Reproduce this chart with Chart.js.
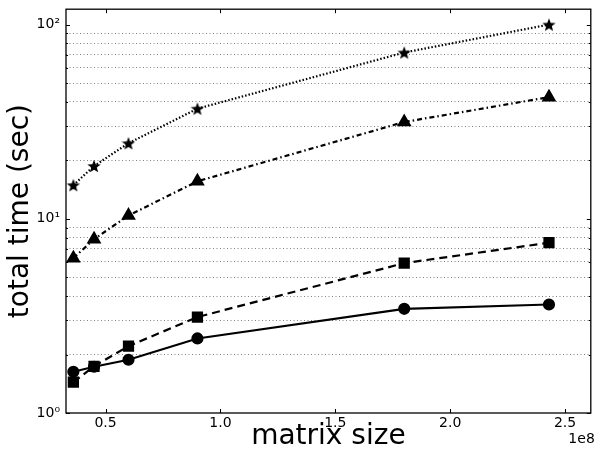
<!DOCTYPE html>
<html>
<head>
<meta charset="utf-8">
<script src="https://cdn.jsdelivr.net/npm/chart.js@4"></script>
<style>
  html, body { margin: 0; padding: 0; background: #fff; }
  #wrap { width: 600px; height: 461px; }
</style>
</head>
<body>
<div id="wrap"><canvas id="myChart"></canvas></div>
<script>
// matrix sizes (x) and total times in seconds for the four runs
const matrixSizes = [0.36e8, 0.45e8, 0.60e8, 0.90e8, 1.80e8, 2.43e8];
const timesCircle = [1.63, 1.73, 1.88, 2.42, 3.44, 3.62];
const timesSquare = [1.44, 1.74, 2.21, 3.12, 5.91, 7.53];
const timesTriangle = [6.27, 7.85, 10.4, 15.6, 31.5, 42.3];
const timesStar = [14.9, 18.7, 24.5, 36.9, 71.8, 100];

const xTicks = [0.5e8, 1.0e8, 1.5e8, 2.0e8, 2.5e8];
const yMajor = [1, 10, 100];
const yLabels = ['10\u2070', '10\u00b9', '10\u00b2'];

// y ticks: every 1..9 x 10^n between 1 and 100
const yTicks = [];
for (let d = 1; d <= 100; d *= 10) {
  for (let m = 1; m <= 9; m++) {
    if (m * d <= 100) yTicks.push(m * d);
  }
}

// filled 5 point star like matplotlib's '*'
function makeStar(size) {
  const c = document.createElement('canvas');
  c.width = size; c.height = size;
  const g = c.getContext('2d');
  const cx = size / 2, cy = size / 2 + 0.7;
  const ro = size / 2, ri = ro * 0.42;
  g.beginPath();
  for (let i = 0; i < 10; i++) {
    const r = i % 2 === 0 ? ro : ri;
    const a = -Math.PI / 2 + i * Math.PI / 5;
    g.lineTo(cx + r * Math.cos(a), cy + r * Math.sin(a));
  }
  g.closePath();
  g.fillStyle = '#000';
  g.fill();
  return c;
}
const starImg = makeStar(14);

function toPoints(vals) {
  return vals.map((v, i) => ({ x: matrixSizes[i], y: v }));
}

const frame = {
  id: 'frame',
  afterDraw(chart) {
    const { ctx, chartArea: a } = chart;
    const xs = chart.scales.x, ys = chart.scales.y;
    ctx.save();
    ctx.strokeStyle = '#000';
    ctx.lineWidth = 1;
    ctx.beginPath();
    // inward tick marks
    xTicks.forEach(v => {
      const px = Math.round(xs.getPixelForValue(v)) + 0.5;
      ctx.moveTo(px, a.bottom); ctx.lineTo(px, a.bottom - 4);
      ctx.moveTo(px, a.top); ctx.lineTo(px, a.top + 4);
    });
    yTicks.forEach(v => {
      const py = Math.round(ys.getPixelForValue(v)) + 0.5;
      const len = yMajor.includes(v) ? 4 : 2;
      ctx.moveTo(a.left, py); ctx.lineTo(a.left + len, py);
      ctx.moveTo(a.right, py); ctx.lineTo(a.right - len, py);
    });
    ctx.stroke();
    ctx.lineWidth = 1.3;
    ctx.strokeRect(a.left, a.top, a.right - a.left, a.bottom - a.top);
    // offset text
    ctx.fillStyle = '#000';
    ctx.font = '14px "DejaVu Sans"';
    ctx.textAlign = 'right';
    ctx.textBaseline = 'top';
    ctx.fillText('1e8', a.right + 4, 432);
    ctx.restore();
  }
};

const ctx = document.getElementById('myChart');
new Chart(ctx, {
  type: 'line',
  data: {
    datasets: [{
      data: toPoints(timesCircle),
      borderColor: '#000', backgroundColor: '#000',
      borderWidth: 2.2, pointStyle: 'circle', pointRadius: 5
    }, {
      data: toPoints(timesSquare),
      borderColor: '#000', backgroundColor: '#000',
      borderWidth: 2.2, borderDash: [8, 5], pointStyle: 'rect', pointRadius: 6.4
    }, {
      data: toPoints(timesTriangle),
      borderColor: '#000', backgroundColor: '#000',
      borderWidth: 2.2, borderDash: [5, 3, 1.5, 3], pointStyle: 'triangle', pointRadius: 6.3
    }, {
      data: toPoints(timesStar),
      borderColor: '#000', backgroundColor: '#000',
      borderWidth: 2.2, borderDash: [1.5, 2], pointStyle: starImg, pointRadius: 7
    }]
  },
  options: {
    responsive: true,
    maintainAspectRatio: false,
    animation: false,
    layout: { padding: { top: 4, right: 7, left: 0, bottom: 0 } },
    plugins: { legend: { display: false }, tooltip: { enabled: false } },
    elements: { line: { tension: 0 }, point: { borderWidth: 0 } },
    scales: {
      x: {
        type: 'linear',
        min: 0.328e8,
        max: 2.612e8,
        afterBuildTicks: s => { s.ticks = xTicks.map(v => ({ value: v })); },
        afterFit: s => { s.height = 48; s.paddingLeft = 0; s.paddingRight = 0; },
        grid: { display: false, drawTicks: false },
        border: { display: false },
        ticks: {
          padding: 2,
          color: '#000',
          font: { family: 'DejaVu Sans', size: 14 },
          callback: v => (v / 1e8).toFixed(1),
          maxRotation: 0
        },
        title: {
          display: true, text: 'matrix size', color: '#000',
          font: { family: 'DejaVu Sans', size: 28 },
          padding: { top: 0, bottom: 7 }
        }
      },
      y: {
        type: 'logarithmic',
        min: 1,
        max: 120,
        afterBuildTicks: s => { s.ticks = yTicks.map(v => ({ value: v, major: yMajor.includes(v) })); },
        afterFit: s => { s.width = 66; s.paddingTop = 0; s.paddingBottom = 0; },
        grid: {
          drawTicks: false,
          lineWidth: 1,
          color: c => (c.tick && yMajor.includes(c.tick.value)) ? 'rgba(0,0,0,0)' : 'rgba(0,0,0,0.5)'
        },
        border: { display: false, dash: [1, 2.5] },
        ticks: {
          padding: 6,
          color: '#000',
          autoSkip: false,
          font: { family: 'DejaVu Sans', size: 14 },
          callback: v => {
            const i = yMajor.indexOf(v);
            return i >= 0 ? yLabels[i] : '';
          }
        },
        title: {
          display: true, text: 'total time (sec)', color: '#000',
          font: { family: 'DejaVu Sans', size: 28 },
          padding: { top: 4, bottom: 0 }
        }
      }
    }
  },
  plugins: [frame]
});
</script>
</body>
</html>
